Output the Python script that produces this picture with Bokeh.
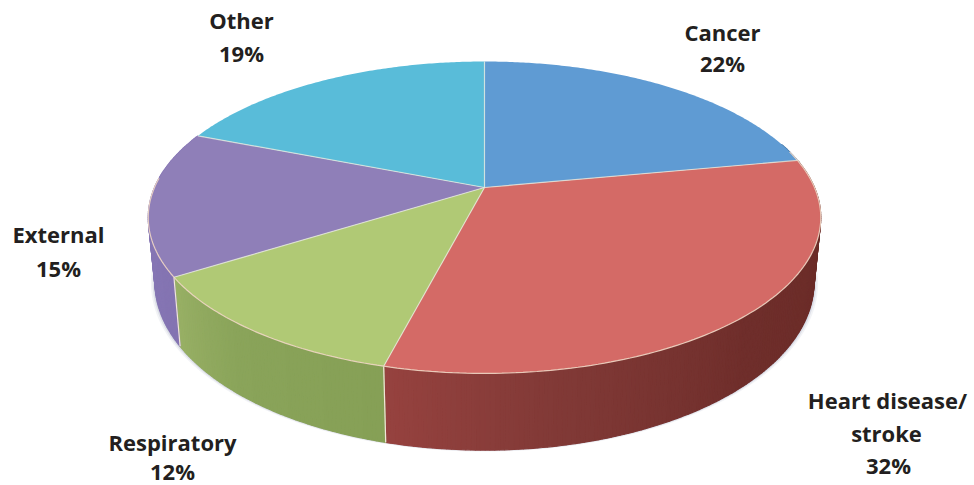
import math
from bokeh.plotting import figure
from bokeh.models import Range1d
from bokeh.core.properties import value
from bokeh.embed import file_html
from bokeh.resources import INLINE

categories = ["Cancer", "Heart disease/stroke", "Respiratory", "External", "Other"]
shares = [22, 32, 12, 15, 19]
top_colors = ["#5f9bd3", "#d46a66", "#b0c975", "#8f7fb8", "#59bcd9"]
wall_stops = [
    [(0, "#4a7aa8"), (1, "#4a7aa8")],
    [(0, "#682a25"), (0.5, "#6f2e2b"), (0.8, "#823a37"), (1, "#96423f")],
    [(0, "#86a056"), (0.6, "#8aa45a"), (1, "#98b065")],
    [(0, "#8474b2"), (1, "#8878b6")],
    [(0, "#45a0bb"), (1, "#45a0bb")],
]
label_lines = [
    [("Cancer", 722, 31), ("22%", 722, 62)],
    [("Heart disease/", 887, 399), ("stroke", 886, 432), ("32%", 888, 464)],
    [("Respiratory", 172, 441), ("12%", 172, 470)],
    [("External", 58, 233), ("15%", 58, 267)],
    [("Other", 241, 19), ("19%", 241, 52)],
]

CX, CY, R, K, P, DEPTH, SHRINK = 484, 187, 330, 150.2, 0.192, 62, 0.98


def top_pt(t):
    u, v = math.sin(t), math.cos(t)
    s = 1 / (1 + P * v)
    return CX + R * u * s, CY - K * v * s


def bot_pt(t, extra=0):
    x, y = top_pt(t)
    s = 1 / (1 + P * math.cos(t))
    return CX + (x - CX) * (SHRINK + extra), y + (DEPTH + extra * 100) * s


def lerp_color(stops, f):
    for (a, ca), (b, cb) in zip(stops, stops[1:]):
        if f <= b:
            w = (f - a) / (b - a)
            rgb = [round(int(ca[i:i + 2], 16) * (1 - w) + int(cb[i:i + 2], 16) * w) for i in (1, 3, 5)]
            return "#%02x%02x%02x" % tuple(rgb)
    return stops[-1][1]


total = sum(shares)
bounds = [0.0]
for v in shares:
    bounds.append(bounds[-1] + v / total * 2 * math.pi)

p = figure(width=974, height=485, output_backend="svg", toolbar_location=None,
           x_range=Range1d(0, 974), y_range=Range1d(485, 0), min_border=0, outline_line_color=None)
p.xaxis.visible = False
p.yaxis.visible = False
p.grid.visible = False
p.background_fill_color = "#ffffff"
p.border_fill_color = "#ffffff"

# soft shadow under the wall
ts = [math.pi * 0.42 + i * (math.pi * 1.1) / 160 for i in range(161)]
for extra, alpha in [(0.012, 0.15), (0.007, 0.25), (0.003, 0.45)]:
    xs = [top_pt(t)[0] for t in ts] + [bot_pt(t, extra)[0] for t in reversed(ts)]
    ys = [top_pt(t)[1] for t in ts] + [bot_pt(t, extra)[1] for t in reversed(ts)]
    p.patch(xs, ys, fill_color="#a9acc4", fill_alpha=alpha, line_color=None)

# side wall, built slice by slice from the shares
wx, wy, wc = [], [], []
for i in range(len(shares)):
    a, b = bounds[i], bounds[i + 1]
    n = max(2, int((b - a) / 0.012))
    for j in range(n):
        t0 = a + (b - a) * j / n
        t1 = a + (b - a) * (j + 1) / n
        mid = (t0 + t1) / 2
        if math.cos(mid) > 0.30 and not (math.pi < mid):
            continue
        if mid > math.pi * 1.62:
            continue
        t0x, t1x = top_pt(t0), top_pt(t1)
        b0, b1 = bot_pt(t0), bot_pt(t1)
        wx.append([t0x[0], t1x[0], b1[0], b0[0]])
        wy.append([t0x[1], t1x[1], b1[1], b0[1]])
        wc.append(lerp_color(wall_stops[i], (j + 0.5) / n))
p.patches(wx, wy, fill_color=wc, line_color=wc, line_width=1.2)

# pale seams at wall slice boundaries
for b_ in (bounds[2], bounds[3]):
    t_, d_ = top_pt(b_), bot_pt(b_)
    p.line([t_[0], d_[0]], [t_[1], d_[1]], line_color="#f1e6d8", line_width=1.2)

# top surface
for i in range(len(shares)):
    a, b = bounds[i], bounds[i + 1]
    n = max(8, int((b - a) / 0.01))
    pts = [top_pt(a + (b - a) * j / n) for j in range(n + 1)]
    xs = [CX] + [q[0] for q in pts]
    ys = [CY] + [q[1] for q in pts]
    p.patch(xs, ys, fill_color=top_colors[i], line_color=None)

# rim highlight on the front edge
rim_ts = [math.pi * 0.42 + k * (math.pi * 1.1) / 200 for k in range(201)]
p.line([top_pt(t)[0] for t in rim_ts], [top_pt(t)[1] for t in rim_ts],
       line_color="#f0d6c4", line_width=1.2, line_alpha=0.9)

# pale radial seams
for b_ in bounds[:-1]:
    q = top_pt(b_)
    p.line([CX, q[0]], [CY, q[1]], line_color="#e8ecdf", line_width=1.2, line_alpha=0.75)

for lines in label_lines:
    for txt, x, y in lines:
        p.text([x], [y], text=[txt], text_font=value("Open Sans"), text_font_style="bold",
               text_font_size="22px", text_color="#231f20", text_align="center", text_baseline="middle")

open("out.html", "w").write(file_html(p, INLINE))
